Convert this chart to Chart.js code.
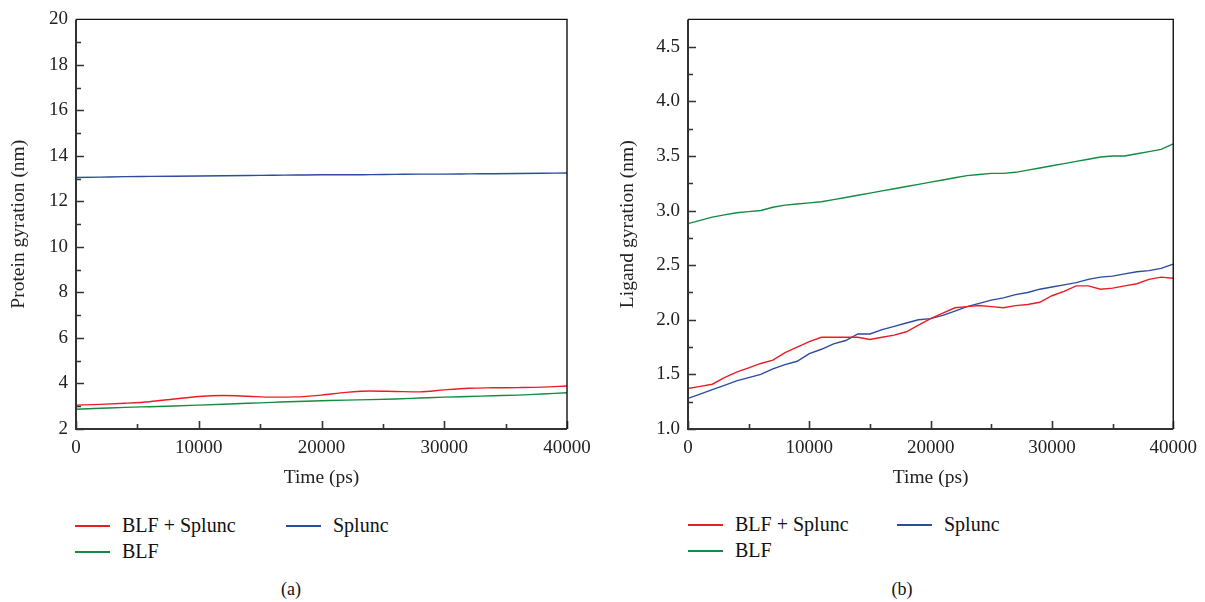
<!DOCTYPE html>
<html><head><meta charset="utf-8">
<script src="https://cdn.jsdelivr.net/npm/chart.js@4.4.1/dist/chart.umd.min.js"></script>
<style>
html,body{margin:0;padding:0;background:#fff;width:1205px;height:602px;overflow:hidden;font-family:"Liberation Serif","DejaVu Serif",serif;color:#111;}
canvas{position:absolute;top:0;}
#c1{left:0;}
#c2{left:600px;}
.item{position:absolute;white-space:nowrap;font-size:20px;line-height:26px;height:26px;}
.item .sw{position:absolute;left:0;top:13px;width:35px;height:1.6px;display:block;}
.item .tx{position:absolute;left:47px;top:0;}
.cap{position:absolute;top:579px;font-size:18px;transform:translateX(-50%);}
</style></head><body>
<canvas id="c1" width="600" height="500"></canvas>
<canvas id="c2" width="605" height="500"></canvas>
<div class="cap" style="left:291px">(a)</div>
<div class="cap" style="left:902px">(b)</div>
<script>
// ---- Data ----
const seriesLabels = ["BLF + Splunc", "Splunc", "BLF"];
const seriesColors = ["#ec1c24", "#2d4b9f", "#168a42"];

// Panel (a): protein gyration (nm), time in ps
const timeA = [0,2000,4000,6000,8000,10000,12000,14000,16000,18000,20000,22000,24000,26000,28000,30000,32000,34000,36000,38000,40000];
const proteinBlfSplunc = [3.05,3.08,3.13,3.20,3.32,3.43,3.47,3.44,3.40,3.41,3.49,3.61,3.67,3.65,3.63,3.72,3.79,3.81,3.82,3.84,3.89];
const proteinSplunc    = [13.05,13.07,13.09,13.10,13.11,13.12,13.13,13.14,13.15,13.16,13.17,13.17,13.18,13.19,13.20,13.20,13.21,13.22,13.23,13.24,13.25];
const proteinBlf       = [2.87,2.91,2.95,2.98,3.01,3.05,3.09,3.13,3.17,3.21,3.24,3.27,3.29,3.32,3.36,3.40,3.43,3.46,3.49,3.54,3.59];

// Panel (b): ligand gyration (nm)
const timeB = [0,1000,2000,3000,4000,5000,6000,7000,8000,9000,10000,11000,12000,13000,14000,15000,16000,17000,18000,19000,20000,21000,22000,23000,24000,25000,26000,27000,28000,29000,30000,31000,32000,33000,34000,35000,36000,37000,38000,39000,40000];
const ligandBlfSplunc = [1.37,1.39,1.41,1.47,1.52,1.56,1.60,1.63,1.70,1.75,1.80,1.84,1.84,1.84,1.84,1.82,1.84,1.86,1.89,1.95,2.01,2.06,2.11,2.12,2.13,2.12,2.11,2.13,2.14,2.16,2.22,2.26,2.31,2.31,2.28,2.29,2.31,2.33,2.37,2.39,2.38];
const ligandSplunc    = [1.28,1.32,1.36,1.40,1.44,1.47,1.50,1.55,1.59,1.62,1.69,1.73,1.78,1.81,1.87,1.87,1.91,1.94,1.97,2.00,2.01,2.04,2.08,2.12,2.15,2.18,2.20,2.23,2.25,2.28,2.30,2.32,2.34,2.37,2.39,2.40,2.42,2.44,2.45,2.47,2.51];
const ligandBlf       = [2.88,2.91,2.94,2.96,2.98,2.99,3.00,3.03,3.05,3.06,3.07,3.08,3.10,3.12,3.14,3.16,3.18,3.20,3.22,3.24,3.26,3.28,3.30,3.32,3.33,3.34,3.34,3.35,3.37,3.39,3.41,3.43,3.45,3.47,3.49,3.50,3.50,3.52,3.54,3.56,3.61];

const xTickValues = [0, 10000, 20000, 30000, 40000];
const yTickValuesA = [2,4,6,8,10,12,14,16,18,20];
const yTickValuesB = [1.0,1.5,2.0,2.5,3.0,3.5,4.0,4.5];

// ---- Rendering ----
const FONT = "'Liberation Serif', 'DejaVu Serif', serif";

const framePlugin = {
  id: 'frame',
  afterDraw(chart) {
    const {ctx, chartArea: a, scales} = chart;
    ctx.save();
    ctx.strokeStyle = '#333';
    ctx.lineWidth = 1.6;
    const xs = scales.x, ys = scales.y;
    ctx.beginPath();
    xs.ticks.forEach(t => {
      const p = Math.round(xs.getPixelForValue(t.value)) + 0.5;
      const len = t.label !== '' ? 8 : 5;
      ctx.moveTo(p, a.bottom); ctx.lineTo(p, a.bottom - len);
    });
    ys.ticks.forEach(t => {
      const p = Math.round(ys.getPixelForValue(t.value)) + 0.5;
      if (p < a.top + 2) return;
      const len = t.label !== '' ? 8 : 5;
      ctx.moveTo(a.left, p); ctx.lineTo(a.left + len, p);
    });
    ctx.stroke();
    ctx.strokeStyle = '#111';
    ctx.lineWidth = 1.4;
    ctx.beginPath();
    ctx.moveTo(a.left, a.top); ctx.lineTo(a.right, a.top); ctx.lineTo(a.right, a.bottom);
    ctx.stroke();
    ctx.strokeStyle = '#333';
    ctx.lineWidth = 2;
    ctx.beginPath();
    ctx.moveTo(a.left, a.top); ctx.lineTo(a.left, a.bottom); ctx.lineTo(a.right, a.bottom);
    ctx.stroke();
    ctx.restore();
  }
};

function pts(xs, ys) { return xs.map((x, i) => ({x: x, y: ys[i]})); }

function makeChart(id, cfg) {
  const datasets = cfg.series.map((s, i) => ({
    label: seriesLabels[i],
    data: pts(cfg.time, s),
    borderColor: seriesColors[i],
    backgroundColor: seriesColors[i],
    borderWidth: 1.4,
    pointRadius: 0,
    fill: false,
    tension: cfg.smooth ? 0.4 : 0,
    cubicInterpolationMode: cfg.smooth ? 'monotone' : 'default'
  }));
  return new Chart(document.getElementById(id), {
    type: 'line',
    data: { datasets },
    plugins: [framePlugin],
    options: {
      responsive: false,
      animation: false,
      devicePixelRatio: 1,
      layout: { padding: { top: 17, right: cfg.padRight, bottom: 0, left: 0 } },
      plugins: { legend: { display: false }, tooltip: { enabled: false } },
      scales: {
        x: {
          type: 'linear', min: 0, max: 40000,
          grid: { display: false, drawTicks: false },
          border: { display: false },
          ticks: {
            stepSize: 5000, autoSkip: false, maxRotation: 0, padding: 8,
            color: '#222', font: { family: FONT, size: 19 },
            callback: v => xTickValues.includes(v) ? String(v) : ''
          },
          title: { display: true, text: 'Time (ps)', color: '#222', font: { family: FONT, size: 19.5 }, padding: { top: 0, bottom: 10 } },
          afterFit: s => { s.height = 71; }
        },
        y: {
          type: 'linear', min: cfg.yMin, max: cfg.yMax,
          grid: { display: false, drawTicks: false },
          border: { display: false },
          ticks: {
            stepSize: cfg.yStep, autoSkip: false, padding: 8,
            color: '#222', font: { family: FONT, size: 19 },
            callback: v => cfg.yLabels.some(l => Math.abs(l - v) < 1e-9) ? cfg.fmt(v) : ''
          },
          title: { display: true, text: cfg.yTitle, color: '#222', font: { family: FONT, size: 19.5 }, padding: { top: cfg.titlePad, bottom: 0 } },
          afterFit: s => { s.width = cfg.yWidth; }
        }
      }
    }
  });
}

makeChart('c1', {
  time: timeA, series: [proteinBlfSplunc, proteinSplunc, proteinBlf], smooth: true,
  yMin: 2, yMax: 20, yStep: 1, yLabels: yTickValuesA, fmt: v => String(v),
  yTitle: 'Protein gyration (nm)', yWidth: 76, padRight: 33, titlePad: 7
});
makeChart('c2', {
  time: timeB, series: [ligandBlfSplunc, ligandSplunc, ligandBlf], smooth: false,
  yMin: 1, yMax: 4.75, yStep: 0.25, yLabels: yTickValuesB, fmt: v => v.toFixed(1),
  yTitle: 'Ligand gyration (nm)', yWidth: 88, padRight: 26, titlePad: 16
});

function makeLegend(left, top, colGap) {
  const slots = [[0, 0], [colGap, 0], [0, 26]];
  seriesLabels.forEach((lab, i) => {
    const d = document.createElement('div');
    d.className = 'item';
    d.style.left = (left + slots[i][0]) + 'px';
    d.style.top = (top + slots[i][1]) + 'px';
    const sw = document.createElement('span'); sw.className = 'sw'; sw.style.background = seriesColors[i];
    const tx = document.createElement('span'); tx.className = 'tx'; tx.textContent = lab;
    d.appendChild(sw); d.appendChild(tx);
    document.body.appendChild(d);
  });
}
makeLegend(75, 512, 211);
makeLegend(688, 511, 209);
</script>
</body></html>
